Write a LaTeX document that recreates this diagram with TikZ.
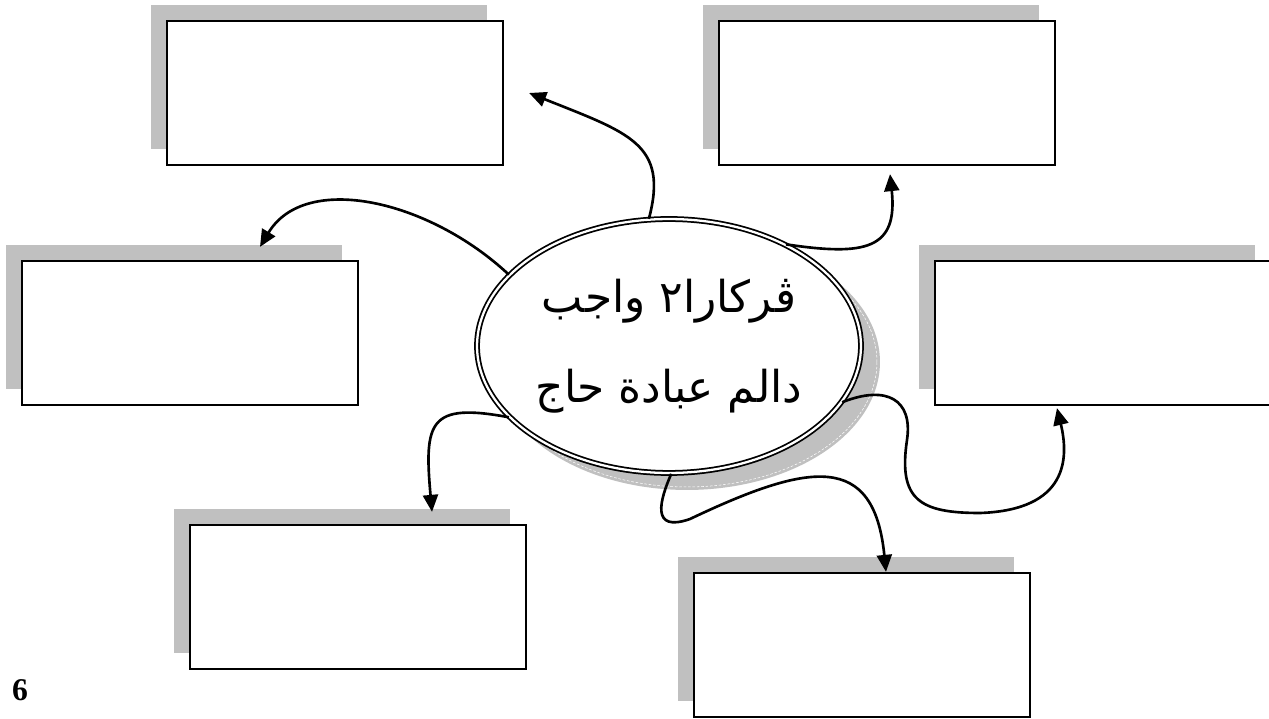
\documentclass[tikz,border=0pt]{standalone}
\usepackage{fontspec}
\setmainfont{Liberation Serif}
\newfontfamily\arabicfont[Script=Arabic]{DejaVu Sans}
\TeXXeTstate=1
\usetikzlibrary{shapes.geometric,shadows,calc,arrows.meta}
\definecolor{shadowgray}{HTML}{C0C0C0}

\begin{document}
\begin{tikzpicture}[x=0.02cm, y=-0.02cm,
	answerbox/.style={draw, fill=white, line width=1.3pt, minimum width=6.72cm, minimum height=2.88cm,
		general shadow={fill=shadowgray, shadow xshift=-0.32cm, shadow yshift=0.32cm}},
	mainidea/.style={ellipse, draw, double, double distance=1.3pt, line width=1pt, fill=white,
		minimum width=7.68cm, minimum height=5.08cm, inner sep=0pt, align=center,
		font=\fontsize{25}{51}\selectfont\arabicfont},
	link/.style={-{Triangle[length=0.34cm,width=0.3cm]}, line width=1.5pt}]
	\useasboundingbox (0,0) rectangle (1269,719);
	% les boites
	\node[answerbox] (tl) at (335,93) {};
	\node[answerbox] (tr) at (887,93) {};
	\node[answerbox] (ml) at (190,333) {};
	\node[answerbox] (mr) at (1103,333) {};
	\node[answerbox] (bl) at (358,597) {};
	\node[answerbox] (br) at (862,645) {};
	% l'ombre de l'ellipse
	\coordinate (mindshadow) at (687,362);
	\fill[shadowgray] (mindshadow) ellipse [x radius=3.86cm, y radius=2.56cm];
	\draw[white, line width=0.3pt, dash pattern=on 1.5pt off 1pt] (mindshadow) ellipse [x radius=3.80cm, y radius=2.50cm];
	% l'ellipse
	\node[mainidea] (mind) at (669,346) {\beginR ڤركارا٢ واجب\endR\\ \beginR دالم عبادة حاج\endR};
	% les fleches
	\draw[link] (mind.99) .. controls +(20,-75) and +(100,40) .. ($(tl.east)+(25,0)$);
	\draw[link] (mind.41) .. controls +(80,12) and +(8,75) .. ($(tr.south)+(3,8)$);
	\draw[link] (mind.156) .. controls +(-80,-75) and +(45,-75) .. ($(ml.north)+(70,-13)$);
	\draw[link] (mind.204) .. controls +(-80,-15) and +(-8,-90) .. ($(bl.north)+(74,-12)$);
	\draw[link] (mind.271) .. controls (660,500) and (650,533) .. (690,519)
		.. controls (810,462) and +(-12,-120) .. ($(br.north)+(24,0)$);
	\draw[link] (mind.-18) .. controls +(45,-18) and (913,400) .. (907,440)
		.. controls (898,500) and (920,513) .. (980,513)
		.. controls (1068,510) and +(12,50) .. ($(mr.south)+(-46,2)$);
	% le numero
	\node[font=\fontsize{18}{20}\selectfont\bfseries] (pagenum) at (20,690) {6};
\end{tikzpicture}
\end{document}
